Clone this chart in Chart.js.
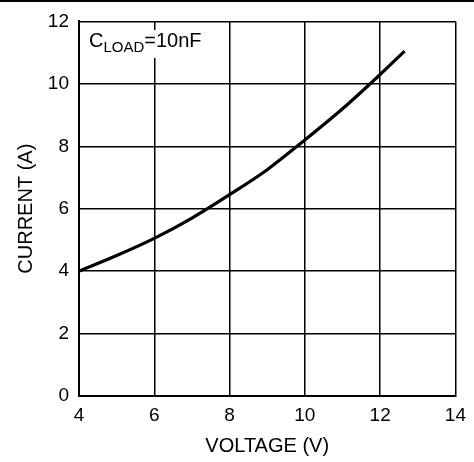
<!DOCTYPE html>
<html>
<head>
<meta charset="utf-8">
<script src="https://cdn.jsdelivr.net/npm/chart.js@4/dist/chart.umd.min.js"></script>
<style>
    html, body { margin: 0; padding: 0; background: #fff; }
    #wrap { width: 474px; height: 462px; position: relative; }
</style>
</head>
<body>
<div id="wrap"><canvas id="chartCurrent"></canvas></div>
<script>
// Current vs voltage, C_LOAD = 10nF
const voltage = [4, 5, 6, 7, 8, 9, 10, 11, 12, 12.65];
const current = [4.0, 4.5, 5.05, 5.7, 6.45, 7.25, 8.2, 9.2, 10.3, 11.05];
const xTicks = [4, 6, 8, 10, 12, 14];
const yTicks = [0, 2, 4, 6, 8, 10, 12];

const FONT = 'Liberation Sans, Arial, sans-serif';

// label box with subscript, plus the rule across the top of the image
const labelPlugin = {
    id: 'labelPlugin',
    afterDraw(chart) {
        const ctx = chart.ctx;
        ctx.save();
        ctx.fillStyle = '#000';
        ctx.fillRect(0, 0, chart.width, 2);

        const x = 89, y = 47;
        ctx.font = '20px ' + FONT;
        const wC = ctx.measureText('C').width;
        ctx.font = '15px ' + FONT;
        const wSub = ctx.measureText('LOAD').width;
        ctx.font = '20px ' + FONT;
        const wRest = ctx.measureText('=10nF').width;

        ctx.fillStyle = '#fff';
        ctx.fillRect(x - 3, 30, wC + wSub + wRest + 6, 28);

        ctx.fillStyle = '#000';
        ctx.textBaseline = 'alphabetic';
        ctx.textAlign = 'left';
        ctx.font = '20px ' + FONT;
        ctx.fillText('C', x, y);
        ctx.font = '15px ' + FONT;
        ctx.fillText('LOAD', x + wC, y + 5);
        ctx.font = '20px ' + FONT;
        ctx.fillText('=10nF', x + wC + wSub, y);
        ctx.restore();
    }
};

new Chart(document.getElementById('chartCurrent').getContext('2d'), {
    type: 'scatter',
    data: {
        datasets: [{
            data: voltage.map((v, i) => ({ x: v, y: current[i] })),
            showLine: true,
            borderColor: '#000',
            borderWidth: 3.2,
            pointRadius: 0,
            cubicInterpolationMode: 'monotone',
            fill: false
        }]
    },
    options: {
        responsive: true,
        maintainAspectRatio: false,
        animation: false,
        layout: {
            padding: { top: 18, right: 17, left: 0, bottom: 0 }
        },
        plugins: {
            legend: { display: false },
            tooltip: { enabled: false }
        },
        scales: {
            x: {
                type: 'linear',
                min: 4,
                max: 14,
                afterBuildTicks: axis => { axis.ticks = xTicks.map(v => ({ value: v })); },
                afterFit: axis => { axis.height = 66; },
                grid: { color: '#000', lineWidth: 1.5, drawTicks: false },
                border: { color: '#000', width: 2 },
                ticks: {
                    color: '#000',
                    padding: 8,
                    font: { family: FONT, size: 19 }
                },
                title: {
                    display: true,
                    text: 'VOLTAGE (V)',
                    color: '#000',
                    padding: { top: 6 },
                    font: { family: FONT, size: 20 }
                }
            },
            y: {
                type: 'linear',
                min: 0,
                max: 12,
                afterBuildTicks: axis => { axis.ticks = yTicks.map(v => ({ value: v })); },
                afterFit: axis => { axis.width = 79; },
                grid: { color: '#000', lineWidth: 1.5, drawTicks: false },
                border: { color: '#000', width: 2 },
                ticks: {
                    color: '#000',
                    padding: 10,
                    font: { family: FONT, size: 19 }
                },
                title: {
                    display: true,
                    text: 'CURRENT (A)',
                    color: '#000',
                    padding: { top: 14, bottom: 10 },
                    font: { family: FONT, size: 20 }
                }
            }
        }
    },
    plugins: [labelPlugin]
});
</script>
</body>
</html>
